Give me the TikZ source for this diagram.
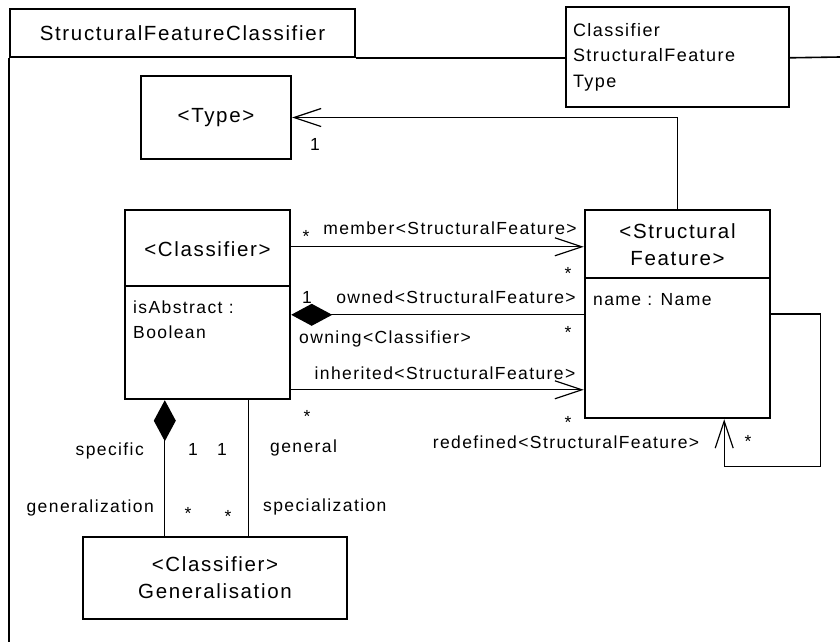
\documentclass[tikz,border=0pt]{standalone}
\usepackage{fontspec}
\setmainfont{Liberation Sans}[LetterSpace=8]
\usetikzlibrary{arrows.meta,positioning,calc}

\begin{document}
\begin{tikzpicture}[x=1pt,y=-1pt,
  umlbox/.style={draw,line width=2.4pt},
  framed/.style={line width=1.6pt},
  namefont/.style={font=\fontsize{20.5}{27}\selectfont},
  lblfont/.style={font=\fontsize{17.5}{25}\selectfont},
  lbl/.style={lblfont,anchor=base,inner sep=0pt},
  assoc/.style={line width=1.2pt,-{Straight Barb[length=27pt,width=18pt,line width=1.2pt]}},
  comp/.style={line width=1.2pt,{Diamond[length=41pt,width=22pt]}-}]
\useasboundingbox (0,0) rectangle (840,642);
% package frame
\node[draw,framed,minimum width=345pt,minimum height=48pt,inner sep=0pt,namefont] (pkg) at (182.5,33) {StructuralFeatureClassifier};
\node[draw,framed,minimum width=223pt,minimum height=100pt,text width=209pt,align=left,font=\fontsize{18}{25.5}\selectfont] (imports) at (677.5,57) {Classifier\\StructuralFeature\\Type};
\draw[framed] (pkg.south west) -- (pkg.south west |- 0,642);
\draw[framed] (pkg.south east) -- (imports.west |- pkg.south);
\draw[framed] (imports.east |- pkg.south) -- (840,57);
% classes
\node[umlbox,minimum width=150pt,minimum height=83pt,namefont] (type) at (216,117.5) {<Type>};
\node[umlbox,minimum width=165pt,minimum height=189pt] (cls) at (207.5,304.5) {};
\node[namefont] (clsname) at (cls.north |- 0,249) {<Classifier>};
\draw[line width=2.4pt] (cls.west |- 0,286) -- (cls.east |- 0,286);
\node[lblfont,anchor=north west,align=left,inner sep=0pt] (clsattr) at (133,301) {isAbstract :\\Boolean};
\node[umlbox,minimum width=185pt,minimum height=208pt] (sf) at (677.5,314) {};
\node[namefont,align=center] (sfname) at (sf.north |- 0,245) {<Structural\\Feature>};
\draw[line width=2.4pt] (sf.west |- 0,278) -- (sf.east |- 0,278);
\node[lblfont,anchor=base west,inner sep=0pt] (sfattr) at (593,305) {name : Name};
\node[umlbox,minimum width=264pt,minimum height=82pt,namefont,align=center] (gen) at (215,578) {<Classifier>\\Generalisation};
% associations
\draw[assoc] (sf.north) |- (type.east);
\draw[assoc] ([yshift=-38pt]cls.north east) coordinate (mem) -- (mem -| sf.west);
\draw[comp] ([yshift=-106pt]cls.north east) coordinate (own) -- (own -| sf.west);
\draw[assoc] ([yshift=-181pt]cls.north east) coordinate (inh) -- (inh -| sf.west);
\draw[assoc] (sf.east) -| ([xshift=49pt,yshift=-47pt]sf.south east) -| ([xshift=-47pt]sf.south east);
\draw[comp] ([xshift=41pt]cls.south west) coordinate (spc) -- (spc |- gen.north);
\draw[line width=1.2pt] ([xshift=-43pt]cls.south east) coordinate (gnl) -- (gnl |- gen.north);
% role names
\node[lbl] (memname) at (450,234) {member<StructuralFeature>};
\node[lbl] (ownname) at (456,303) {owned<StructuralFeature>};
\node[lbl,anchor=base west] (owningname) at (299,343) {owning<Classifier>};
\node[lbl] (inhname) at (445,379) {inherited<StructuralFeature>};
\node[lbl] (redefname) at (566,448) {redefined<StructuralFeature>};
\node[lbl,anchor=base east] (specname) at (144,455) {specific};
\node[lbl,anchor=base east] (genzname) at (154,512) {generalization};
\node[lbl,anchor=base west] (gnlname) at (270,452) {general};
\node[lbl,anchor=base west] (spczname) at (263,511) {specialization};
% multiplicities
\foreach \i/\x/\y in {1/315/150,2/307/303,3/193/455,4/222/455}
  \node[lbl] (one\i) at (\x,\y) {1};
\foreach \i/\x/\y in {1/306/242,2/568/279,3/568/338,4/307/422,5/568/428,6/748/447,7/188/519,8/228/522}
  \node[lbl] (many\i) at (\x,\y) {*};
\end{tikzpicture}
\end{document}
